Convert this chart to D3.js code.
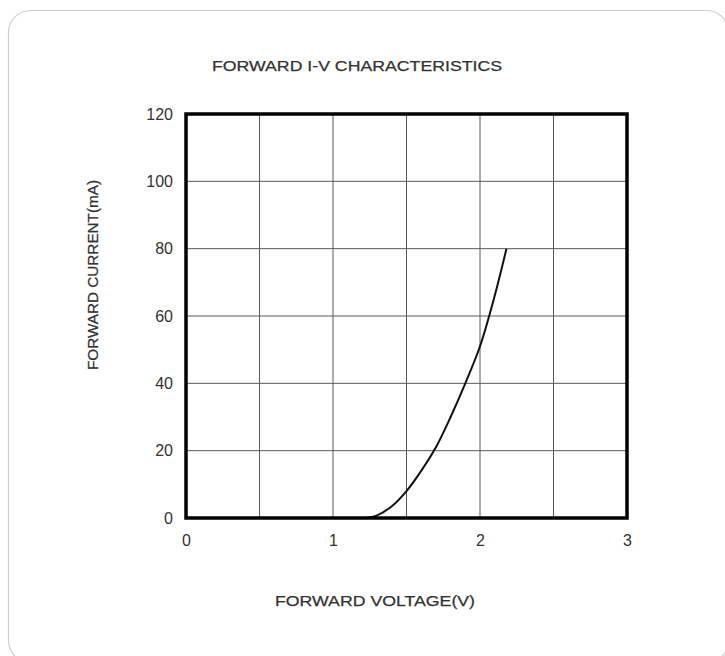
<!DOCTYPE html>
<html>
<head>
<meta charset="utf-8">
<script src="https://cdn.jsdelivr.net/npm/d3@7"></script>
<style>
  body { margin: 0; background: #fff; }
  svg { display: block; font-family: "Liberation Sans", sans-serif; }
</style>
</head>
<body>
<svg width="725" height="656"></svg>
<script>
const svg = d3.select('svg')

// forward voltage (V) vs forward current (mA)
const voltage = [1.22, 1.3, 1.4, 1.5, 1.6, 1.7, 1.8, 1.9, 2.0, 2.1, 2.18]
const current = [0, 0.8, 3.5, 8, 14, 21, 30, 40, 51, 66, 80]
const xTicks = [0, 1, 2, 3]
const yTicks = [0, 20, 40, 60, 80, 100, 120]
const xGrid = [0.5, 1, 1.5, 2, 2.5]
const yGrid = [20, 40, 60, 80, 100]

const plot = {left:186, right:627, top:114, bottom:518}

const x = d3.scaleLinear().domain([0,3]).range([plot.left,plot.right])
const y = d3.scaleLinear().domain([0,120]).range([plot.bottom,plot.top])

// card
svg.append('rect')
  .attr('x',8.5).attr('y',10.5)
  .attr('width',720).attr('height',652)
  .attr('rx',22)
  .attr('fill','#fff')
  .attr('stroke','#cfcfcf')
  .attr('stroke-width',1.2)

const label = (txt,len) => svg.append('text')
  .attr('text-anchor','middle')
  .attr('font-size',15)
  .attr('textLength',len)
  .attr('lengthAdjust','spacingAndGlyphs')
  .attr('fill','#333')
  .attr('stroke','#333')
  .attr('stroke-width',0.25)
  .text(txt)

label('FORWARD I-V CHARACTERISTICS',290).attr('x',357).attr('y',71)
label('FORWARD VOLTAGE(V)',200).attr('x',375).attr('y',606)
label('FORWARD CURRENT(mA)',190).attr('transform','translate(98,275) rotate(-90)')

// grid
const grid = svg.append('g').attr('stroke','#5a5a5a').attr('stroke-width',1)
grid.selectAll('.gx').data(xGrid).join('line')
  .attr('x1',d => x(d)).attr('x2',d => x(d))
  .attr('y1',plot.top).attr('y2',plot.bottom)
grid.selectAll('.gy').data(yGrid).join('line')
  .attr('y1',d => y(d)).attr('y2',d => y(d))
  .attr('x1',plot.left).attr('x2',plot.right)

// tick labels only, no axis lines
const xAxis = svg.append('g')
  .attr('transform',`translate(0,${plot.bottom})`)
  .call(d3.axisBottom(x).tickValues(xTicks).tickSize(0).tickPadding(17).tickFormat(d3.format('d')))
const yAxis = svg.append('g')
  .attr('transform',`translate(${plot.left},0)`)
  .call(d3.axisLeft(y).tickValues(yTicks).tickSize(0).tickPadding(13).tickFormat(d3.format('d')))
;[xAxis,yAxis].forEach(a => {
  a.select('.domain').remove()
  a.selectAll('text').attr('font-size',16).attr('fill','#333').attr('font-family','"Liberation Sans", sans-serif')
})

// curve
const line = d3.line()
  .x((d,i) => x(voltage[i]))
  .y(d => y(d))
  .curve(d3.curveCatmullRom)
svg.append('path')
  .datum(current)
  .attr('d',line)
  .attr('fill','none')
  .attr('stroke','#111')
  .attr('stroke-width',2)

// frame
svg.append('rect')
  .attr('x',plot.left).attr('y',plot.top)
  .attr('width',plot.right-plot.left).attr('height',plot.bottom-plot.top)
  .attr('fill','none')
  .attr('stroke','#000')
  .attr('stroke-width',3.5)
</script>
</body>
</html>
